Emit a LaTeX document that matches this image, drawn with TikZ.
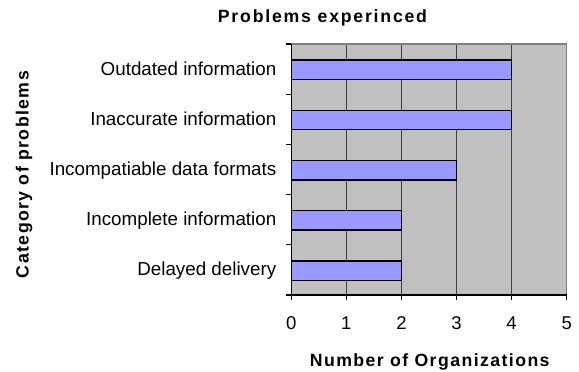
\documentclass[tikz,border=0pt]{standalone}
\usepackage{fontspec}
\setmainfont{Liberation Sans}
\newfontfamily\boldlab[LetterSpace=8]{Liberation Sans Bold}
\newfontfamily\boldtitle[LetterSpace=10]{Liberation Sans Bold}
\definecolor{plotbg}{HTML}{C0C0C0}
\definecolor{barfill}{HTML}{9999FF}
\definecolor{gridcol}{HTML}{404040}
\definecolor{framecol}{HTML}{808080}
\tikzset{
  catlabel/.style={anchor=base east, inner sep=0pt, font=\fontsize{18.8}{20}\selectfont},
  numlabel/.style={anchor=base, inner sep=0pt, font=\fontsize{18.5}{20}\selectfont},
  axtitle/.style={anchor=base, inner sep=0pt, font=\boldlab\fontsize{17.7}{19}\selectfont},
  bar/.style={draw=black, line width=1.4pt, fill=barfill},
  gridline/.style={draw=gridcol, line width=0.8pt},
  axisline/.style={draw=black, line width=1.2pt},
}
\begin{document}
\begin{tikzpicture}[x=1pt, y=-1pt]
  \useasboundingbox (0,0) rectangle (579,372);
  % plot area: x from 291.3 (value 0) to 566.7 (value 5), y from 44 to 295
  \def\xo{291.3}
  \def\ux{55.08}
  \def\yt{44}
  \def\yb{295}
  \def\band{50.2}
  \fill[plotbg] (\xo,\yt) rectangle (566.7,\yb);
  % vertical grid lines
  \foreach \k in {1,...,4}
    \draw[gridline] ({\xo+\k*\ux},\yt) -- ({\xo+\k*\ux},\yb);
  % frame (top and right)
  \draw[framecol, line width=1.2pt] (\xo,\yt) -- (566.7,\yt) -- (566.7,\yb);
  % bars
  \foreach \v [count=\i from 0] in {4,4,3,2,2}
    \draw[bar] (\xo,{\yt+\i*\band+16}) rectangle ({\xo+\v*\ux},{\yt+\i*\band+35.5});
  % axes
  \draw[axisline] (\xo,\yt) -- (\xo,\yb) -- (566.7,\yb);
  \foreach \i in {0,...,5}
    \draw[axisline] ({\xo-5},{\yt+\i*\band}) -- (\xo,{\yt+\i*\band});
  \foreach \k in {0,...,5}
    \draw[axisline] ({\xo+\k*\ux},\yb) -- ({\xo+\k*\ux},{\yb+5});
  % category labels
  \node[catlabel] (c1) at (276.5,{\yt+0*\band+31}) {Outdated information};
  \node[catlabel] (c2) at (276.5,{\yt+1*\band+31}) {Inaccurate information};
  \node[catlabel] (c3) at (276.5,{\yt+2*\band+31}) {Incompatiable data formats};
  \node[catlabel] (c4) at (276.5,{\yt+3*\band+31}) {Incomplete information};
  \node[catlabel] (c5) at (276.5,{\yt+4*\band+31}) {Delayed delivery};
  % value axis numbers
  \foreach \k in {0,...,5}
    \node[numlabel] (n\k) at ({\xo+\k*\ux},329.5) {\k};
  % titles
  \node[axtitle, font=\boldtitle\fontsize{17.7}{19}\selectfont] (title) at (322.5,22.7) {Problems experinced};
  \node[axtitle] (xtitle) at (429.7,366.5) {Number of Organizations};
  \node[axtitle, rotate=90] (ytitle) at (28.7,174.5) {Category of problems};
\end{tikzpicture}
\end{document}
